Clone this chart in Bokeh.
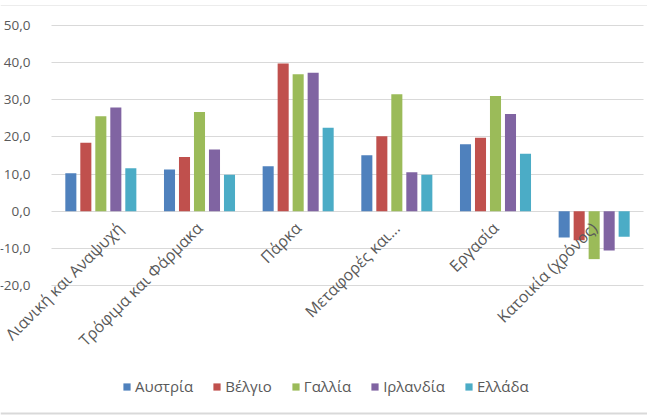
import math
from bokeh.plotting import figure
from bokeh.models import (Range1d, FixedTicker, CustomJSTickFormatter,
                          Legend, LegendItem, ColumnDataSource)
from bokeh.transform import dodge
from bokeh.embed import file_html
from bokeh.resources import INLINE

categories = ["Λιανική και Αναψυχή", "Τρόφιμα και Φάρμακα", "Πάρκα",
              "Μεταφορές και...", "Εργασία", "Κατοικία (χρόνος)"]
series_names = ["Αυστρία", "Βέλγιο", "Γαλλία", "Ιρλανδία", "Ελλάδα"]
austria = [10.2, 11.2, 12.1, 15.1, 18.0, -7.1]
belgium = [18.4, 14.6, 39.8, 20.2, 19.8, -7.8]
france = [25.6, 26.7, 36.9, 31.5, 31.0, -12.9]
ireland = [27.9, 16.6, 37.3, 10.5, 26.2, -10.6]
greece = [11.6, 9.8, 22.5, 9.8, 15.5, -6.9]
y_ticks = [-20, -10, 0, 10, 20, 30, 40, 50]

colors = ["#4F81BD", "#C0504D", "#9BBB59", "#8064A2", "#4BACC6"]

W, H = 647, 417
# plot area in screen pixels (Excel-like layout)
PL, PR, PT, PB = 51, 643, 25, 285
n = len(categories)
xs_per_px = n / (PR - PL)
ys_per_px = (max(y_ticks) - min(y_ticks)) / (PB - PT)
x_start = -PL * xs_per_px
x_end = n + (W - PR) * xs_per_px
y_end = max(y_ticks) + PT * ys_per_px
y_start = min(y_ticks) - (H - PB) * ys_per_px

centers = [i + 0.5 for i in range(n)]
src = ColumnDataSource(dict(xc=centers, s0=austria, s1=belgium, s2=france,
                            s3=ireland, s4=greece))

FONT = "Open Sans"
GREY = "#595959"

p = figure(width=W, height=H, x_range=Range1d(x_start, x_end),
           y_range=Range1d(y_start, y_end), output_backend="svg", toolbar_location=None,
           min_border=0)
p.outline_line_color = None
p.background_fill_color = "white"
p.border_fill_color = "white"

# chart border lines (top / bottom of the chart box)
p.hspan(y=[y_end - 5 * ys_per_px], line_color="#ececec", line_width=1)
p.hspan(y=[y_start + 4 * ys_per_px], line_color="#d9d9d9", line_width=2)

# gridlines
p.xgrid.grid_line_color = None
p.ygrid.grid_line_color = "#d9d9d9"
p.ygrid.grid_line_width = 1
p.ygrid.ticker = FixedTicker(ticks=y_ticks)
p.ygrid.cross_bounds = (0, n)

offsets = [-0.304, -0.152, 0.0, 0.152, 0.304]
items = []
for i, (name, col) in enumerate(zip(series_names, colors)):
    r = p.vbar(x=dodge("xc", offsets[i]), top="s%d" % i, bottom=0,
               width=0.112, source=src, fill_color=col, line_color=None)
    items.append(LegendItem(label=name, renderers=[r]))

p.yaxis.fixed_location = 0
p.yaxis.ticker = FixedTicker(ticks=y_ticks)
p.yaxis.formatter = CustomJSTickFormatter(code="return tick.toFixed(1).replace('.', ',');")
p.yaxis.axis_line_color = None
p.yaxis.major_tick_line_color = None
p.yaxis.minor_tick_line_color = None
p.yaxis.major_label_standoff = 15
p.yaxis.major_label_text_font = FONT
p.yaxis.major_label_text_font_size = "13.5px"
p.yaxis.major_label_text_color = GREY

p.xaxis.fixed_location = 0
p.xaxis.ticker = FixedTicker(ticks=centers)
p.xaxis.formatter = CustomJSTickFormatter(args=dict(labels=categories),
                                          code="return labels[Math.round(tick - 0.5)];")
p.xaxis.axis_line_color = None
p.xaxis.major_tick_line_color = None
p.xaxis.minor_tick_line_color = None
p.xaxis.major_label_orientation = math.pi / 4
p.xaxis.major_label_standoff = 8
p.xaxis.major_label_text_font = FONT
p.xaxis.major_label_text_font_size = "16px"
p.xaxis.major_label_text_color = GREY

legend = Legend(items=items, orientation="horizontal", location=(122, 21),
                glyph_width=9, glyph_height=9, label_standoff=4, spacing=19,
                padding=0, margin=0, border_line_color=None, background_fill_alpha=0,
                label_text_font=FONT, label_text_font_size="15px",
                label_text_color=GREY)
p.add_layout(legend, "center")

open("out.html", "w").write(file_html(p, INLINE))
